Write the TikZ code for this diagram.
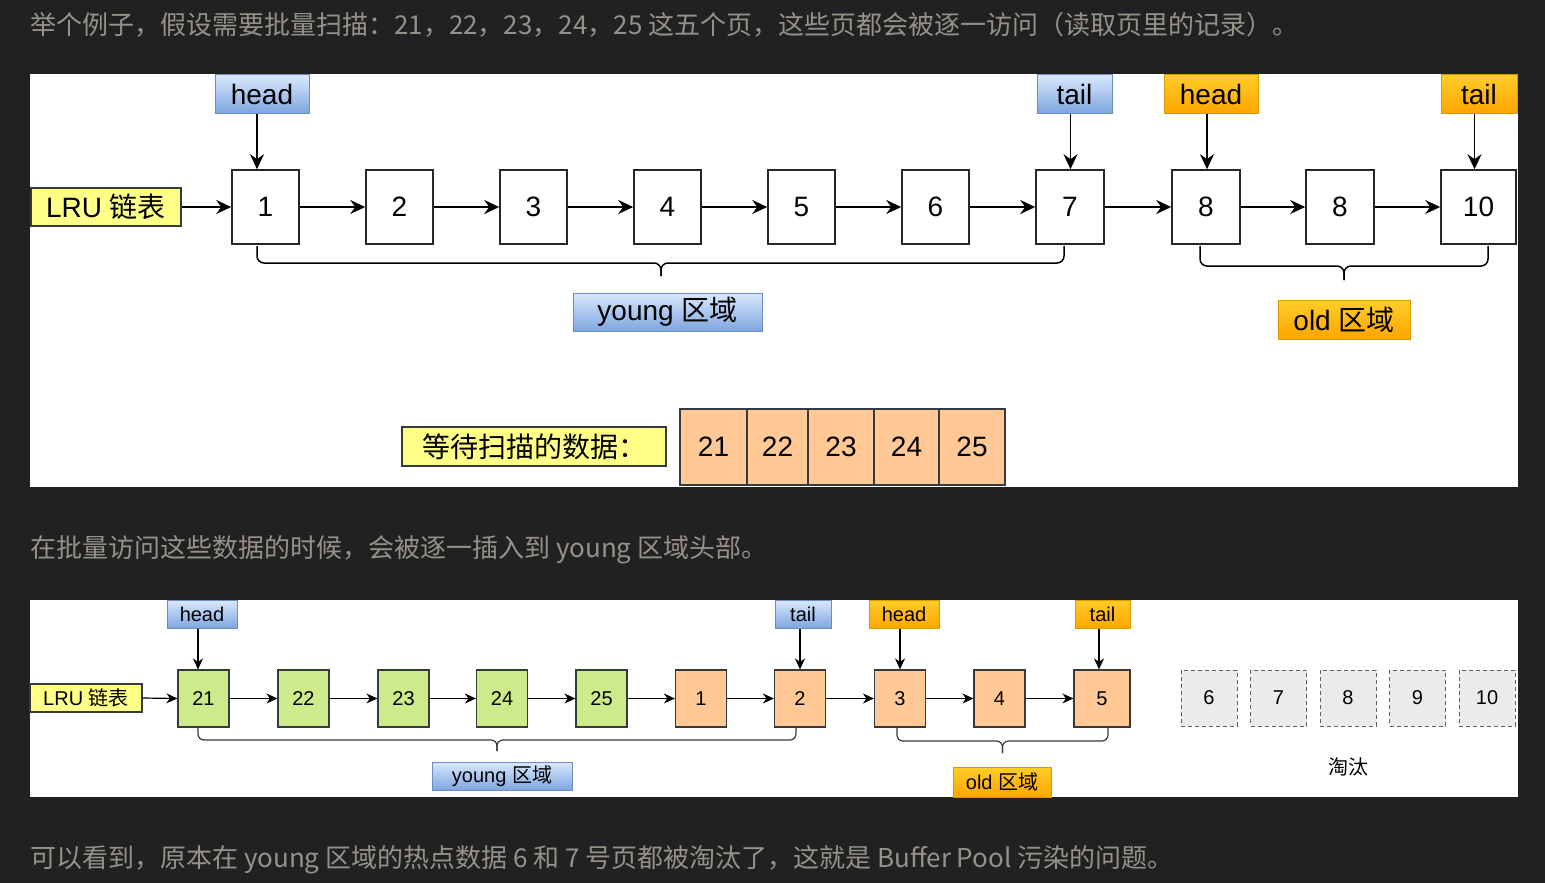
\documentclass[tikz,border=0pt]{standalone}
\usepackage{fontspec}
\setmainfont{Liberation Sans}
\newfontfamily\cjk{Noto Sans CJK SC}
\usetikzlibrary{arrows.meta,calc}
\definecolor{bg}{RGB}{33,33,33}
\definecolor{txt}{RGB}{150,145,137}
\definecolor{bluetop}{HTML}{DAE8FC}
\definecolor{bluebot}{HTML}{7EA6E0}
\definecolor{blueline}{HTML}{6C8EBF}
\definecolor{oratop}{HTML}{FFCD28}
\definecolor{orabot}{HTML}{FFA500}
\definecolor{oraline}{HTML}{D79B00}
\definecolor{yel}{HTML}{FFFF88}
\definecolor{dark}{HTML}{36393D}
\definecolor{peach}{HTML}{FFC895}
\definecolor{grn}{HTML}{CDEB8B}
\definecolor{gry}{HTML}{EBEBEB}
\tikzset{
  bodytext/.style={anchor=west, text=txt, inner sep=0pt, font=\cjk\fontsize{26}{28}\selectfont},
  bluelab/.style={draw=blueline, line width=1pt, top color=bluetop, bottom color=bluebot, inner sep=0pt},
  oralab/.style={draw=oraline, line width=1pt, top color=oratop, bottom color=orabot, inner sep=0pt},
  yellab/.style={draw=dark, line width=1.2pt, fill=yel, inner sep=0pt},
  bigf/.style={font=\fontsize{28}{30}\selectfont},
  smallf/.style={font=\fontsize{20}{22}\selectfont},
  boxA/.style={draw=black!85, line width=1.6pt, fill=white, minimum width=67pt, minimum height=74pt, inner sep=0pt, bigf},
  dbox/.style={draw=dark, line width=1.2pt, fill=peach, minimum height=76pt, inner sep=0pt, bigf},
  boxB/.style={draw=dark, line width=1.2pt, minimum width=51pt, minimum height=57pt, inner sep=0pt, smallf},
  gbox/.style={draw=dark!80, dashed, dash pattern=on 4pt off 3pt, line width=1pt, fill=gry, minimum width=56pt, minimum height=56pt, inner sep=0pt, smallf},
  arrA/.style={-{Stealth[length=15pt,width=14pt,inset=5pt]}, line width=1.5pt},
  arrB/.style={-{Stealth[length=11pt,width=10pt,inset=3.5pt]}, line width=1.2pt},
  braceA/.style={line width=1.5pt, rounded corners=7pt},
  braceB/.style={line width=1.2pt, rounded corners=6pt, draw=dark}
}
\begin{document}
\begin{tikzpicture}[x=1pt,y=-1pt]
\useasboundingbox (0,0) rectangle (1545,883);
\fill[bg] (0,0) rectangle (1545,883);
\fill[white] (30,74) rectangle (1518,487);
\fill[white] (30,600) rectangle (1518,797);

% body text
\node[bodytext] (t1) at (30,25) {举个例子，假设需要批量扫描：21，22，23，24，25 这五个页，这些页都会被逐一访问（读取页里的记录）。};
\node[bodytext] (t2) at (30,550) {在批量访问这些数据的时候，会被逐一插入到 young 区域头部。};
\node[bodytext] (t3) at (30,860) {可以看到，原本在 young 区域的热点数据 6 和 7 号页都被淘汰了，这就是 Buffer Pool 污染的问题。};

% ===== panel 1 =====
\node[yellab, bigf, minimum width=150pt, minimum height=38pt] (lru1) at (106,207) {LRU {\cjk 链表}};
\node[boxA] (a1) at (265.5,207) {1};
\node[boxA] (a2) at (399.5,207) {2};
\node[boxA] (a3) at (533.5,207) {3};
\node[boxA] (a4) at (667.5,207) {4};
\node[boxA] (a5) at (801.5,207) {5};
\node[boxA] (a6) at (935.5,207) {6};
\node[boxA, minimum width=68pt] (a7) at (1070,207) {7};
\node[boxA, minimum width=68pt] (a8) at (1206,207) {8};
\node[boxA, minimum width=68pt] (a9) at (1340,207) {8};
\node[boxA, minimum width=75pt] (a10) at (1478.5,207) {10};

\node[bluelab, bigf, minimum width=94pt, minimum height=38pt] (h1) at (262,94) {head};
\node[bluelab, bigf, minimum width=75pt, minimum height=38pt] (tl1) at (1074.5,94) {tail};
\node[oralab, bigf, minimum width=94pt, minimum height=38pt] (h2) at (1211,94) {head};
\node[oralab, bigf, minimum width=76pt, minimum height=38pt] (tl2) at (1479,94) {tail};

\coordinate (p1) at ($(a1.north)+(-8.5,0)$);
\coordinate (p7) at ($(a7.north)+(0.5,0)$);
\coordinate (p8) at ($(a8.north)+(1,0)$);
\coordinate (p10) at ($(a10.north)+(-4,0)$);
\draw[arrA] (h1.south -| p1) -- (p1);
\draw[arrA] (tl1.south -| p7) -- (p7);
\draw[arrA] (h2.south -| p8) -- (p8);
\draw[arrA] (tl2.south -| p10) -- (p10);

\draw[arrA] (lru1.east) -- (a1.west);
\foreach \i/\j in {1/2,2/3,3/4,4/5,5/6,6/7,7/8,8/9,9/10}
  \draw[arrA] (a\i.east) -- (a\j.west);

\node[bluelab, bigf, minimum width=189pt, minimum height=38pt] (yl1) at (667.5,312) {young {\cjk 区域}};
\node[oralab, bigf, minimum width=132pt, minimum height=39pt] (ol1) at (1344,319.5) {old {\cjk 区域}};

% braces panel 1
\coordinate (yb1l) at (257,246);
\coordinate (yb1r) at (1064,246);
\coordinate (yb1m) at (661,263);
\draw[braceA] (yb1l) -- (yb1l |- yb1m) -- (yb1m) -- ++(0,13);
\draw[braceA] (yb1r) -- (yb1r |- yb1m) -- (yb1m) -- ++(0,13);
\coordinate (ob1l) at (1200,246);
\coordinate (ob1r) at (1488,246);
\coordinate (ob1m) at (1344,266);
\draw[braceA] (ob1l) -- (ob1l |- ob1m) -- (ob1m) -- ++(0,14);
\draw[braceA] (ob1r) -- (ob1r |- ob1m) -- (ob1m) -- ++(0,14);

% waiting data
\node[yellab, minimum width=264pt, minimum height=39pt, font=\cjk\fontsize{28}{30}\selectfont] (wait) at (534,446.5) {等待扫描的数据：};
\node[dbox, minimum width=67pt] (d21) at (713.5,447) {21};
\node[dbox, minimum width=61pt] (d22) at (777.5,447) {22};
\node[dbox, minimum width=66pt] (d23) at (841,447) {23};
\node[dbox, minimum width=65pt] (d24) at (906.5,447) {24};
\node[dbox, minimum width=66pt] (d25) at (972,447) {25};

% ===== panel 2 =====
\node[yellab, smallf, minimum width=112pt, minimum height=28pt] (lru2) at (86,698) {LRU {\cjk 链表}};
\node[boxB, fill=grn] (b21) at (203.5,698.5) {21};
\node[boxB, fill=grn] (b22) at (303.5,698.5) {22};
\node[boxB, fill=grn] (b23) at (403.5,698.5) {23};
\node[boxB, fill=grn] (b24) at (502,698.5) {24};
\node[boxB, fill=grn] (b25) at (601.5,698.5) {25};
\node[boxB, fill=peach] (b1) at (701,698.5) {1};
\node[boxB, fill=peach] (b2) at (800,698.5) {2};
\node[boxB, fill=peach] (b3) at (900,698.5) {3};
\node[boxB, fill=peach] (b4) at (999.5,698.5) {4};
\node[boxB, fill=peach, minimum width=56pt] (b5) at (1102,698.5) {5};

\node[bluelab, smallf, minimum width=70pt, minimum height=28pt] (h3) at (202,614) {head};
\node[bluelab, smallf, minimum width=56pt, minimum height=28pt] (tl3) at (803,614) {tail};
\node[oralab, smallf, minimum width=70pt, minimum height=28pt] (h4) at (904,614) {head};
\node[oralab, smallf, minimum width=55pt, minimum height=28pt] (tl4) at (1102.5,614) {tail};

\coordinate (q21) at ($(b21.north)+(-5.5,0)$);
\coordinate (q2) at (b2.north);
\coordinate (q3) at (b3.north);
\coordinate (q5) at ($(b5.north)+(-3,0)$);
\draw[arrB] (h3.south -| q21) -- (q21);
\draw[arrB] (tl3.south -| q2) -- (q2);
\draw[arrB] (h4.south -| q3) -- (q3);
\draw[arrB] (tl4.south -| q5) -- (q5);

\draw[arrB] (lru2.east) -- (b21.west);
\foreach \i/\j in {21/22,22/23,23/24,24/25,25/1,1/2,2/3,3/4,4/5}
  \draw[arrB] (b\i.east) -- (b\j.west);

% braces panel 2
\coordinate (yb2l) at (198,728);
\coordinate (yb2r) at (796,728);
\coordinate (yb2m) at (497,740);
\draw[braceB] (yb2l) -- (yb2l |- yb2m) -- (yb2m) -- ++(0,11);
\draw[braceB] (yb2r) -- (yb2r |- yb2m) -- (yb2m) -- ++(0,11);
\coordinate (ob2l) at (897,728);
\coordinate (ob2r) at (1108,728);
\coordinate (ob2m) at (1002.5,741);
\draw[braceB] (ob2l) -- (ob2l |- ob2m) -- (ob2m) -- ++(0,12);
\draw[braceB] (ob2r) -- (ob2r |- ob2m) -- (ob2m) -- ++(0,12);

\node[bluelab, smallf, minimum width=140pt, minimum height=28pt] (yl2) at (502,776) {young {\cjk 区域}};
\node[oralab, smallf, minimum width=98pt, minimum height=30pt] (ol2) at (1002,782) {old {\cjk 区域}};

% evicted
\node[gbox] (e6) at (1209,698) {6};
\node[gbox] (e7) at (1278.5,698) {7};
\node[gbox] (e8) at (1348,698) {8};
\node[gbox] (e9) at (1417.5,698) {9};
\node[gbox] (e10) at (1487,698) {10};
\node[font=\cjk\fontsize{20}{22}\selectfont, inner sep=0pt] (evict) at (1348,767) {淘汰};
\end{tikzpicture}
\end{document}
